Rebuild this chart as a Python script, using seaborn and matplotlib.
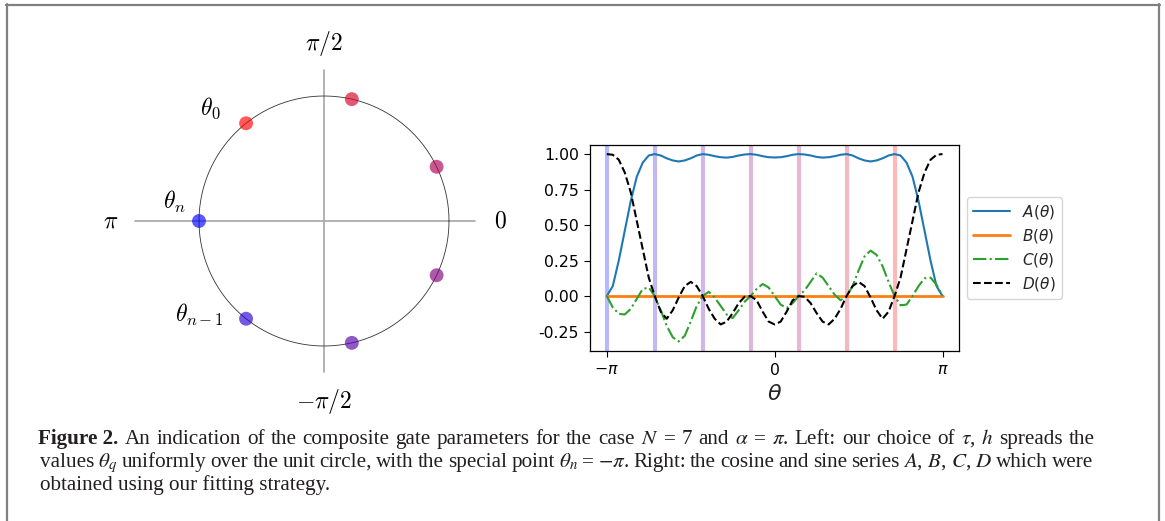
import matplotlib
matplotlib.use("Agg")
import matplotlib.pyplot as plt
from matplotlib.lines import Line2D
import numpy as np
import pandas as pd
import seaborn as sns

W, H = 1165, 521

# sample points of the fitted series, theta / pi from -1 to 1 in steps of 1/28
THETA = np.linspace(-np.pi, np.pi, 57)

A_VALS = [0.00, 0.07, 0.25, 0.46, 0.67, 0.84, 0.94, 0.99, 1.00, 0.99,
          0.97, 0.955, 0.948, 0.955, 0.97, 0.99, 1.00, 0.995, 0.985, 0.978,
          0.975, 0.98, 0.99, 0.997, 1.00, 0.995, 0.985, 0.978, 0.976, 0.978,
          0.985, 0.995, 1.00, 0.997, 0.99, 0.98, 0.975, 0.978, 0.985, 0.995,
          1.00, 0.99, 0.97, 0.955, 0.948, 0.955, 0.97, 0.99, 1.00, 0.99,
          0.94, 0.84, 0.67, 0.46, 0.25, 0.07, 0.00]

B_THETA = [-np.pi, np.pi]
B_VALS = [0.0, 0.0]

C_VALS = [0.00, -0.08, -0.125, -0.13, -0.09, -0.02, 0.05, 0.06, 0.00, -0.10,
          -0.21, -0.29, -0.32, -0.28, -0.18, -0.07, 0.00, 0.03, -0.01, -0.07,
          -0.13, -0.155, -0.10, -0.04, 0.00, 0.05, 0.085, 0.06, 0.00, -0.06,
          -0.085, -0.05, 0.00, 0.04, 0.10, 0.16, 0.13, 0.07, 0.01, -0.03,
          0.00, 0.07, 0.18, 0.28, 0.32, 0.29, 0.21, 0.10, 0.00, -0.065,
          -0.06, 0.00, 0.07, 0.125, 0.13, 0.08, 0.00]

D_VALS = [1.00, 0.995, 0.96, 0.87, 0.73, 0.53, 0.33, 0.13, 0.00, -0.11,
          -0.16, -0.10, -0.01, 0.07, 0.10, 0.07, 0.00, -0.09, -0.16, -0.20,
          -0.18, -0.12, -0.05, -0.005, 0.00, -0.03, -0.11, -0.18, -0.20, -0.18,
          -0.11, -0.03, 0.00, -0.005, -0.05, -0.12, -0.18, -0.20, -0.16, -0.09,
          0.00, 0.07, 0.10, 0.07, -0.01, -0.10, -0.16, -0.11, 0.00, 0.13,
          0.33, 0.53, 0.73, 0.87, 0.96, 0.995, 1.00]

# special points theta_q = -pi + 2*pi*q/7 (in units of pi), blue -> red
THETA_Q = [-1.0, -5 / 7, -3 / 7, -1 / 7, 1 / 7, 3 / 7, 5 / 7]
Q_COLORS = [(q / 6, 0.0, 1 - q / 6) for q in range(7)]

Y_TICKS = [-0.25, 0.0, 0.25, 0.5, 0.75, 1.0]
X_TICKS = [-np.pi, 0, np.pi]
X_TICKLABELS = [r"$-\pi$", r"$0$", r"$\pi$"]

CAPTION_1 = (r"An indication of the composite gate parameters for the case $N$ = 7 "
             r"and $\alpha$ = $\pi$. Left: our choice of $\tau$, $h$ spreads the")
CAPTION_2 = (r"values $\theta_q$ uniformly over the unit circle, with the special point "
             r"$\theta_n$ = $-\pi$. Right: the cosine and sine series $A$, $B$, $C$, $D$ which were")
CAPTION_3 = "obtained using our fitting strategy."


def fx(x):
    return x / W


def fy(y):
    return 1 - y / H


def justified(fig, text, x0, x1, y, **kw):
    # place the words one by one so that the line runs from x0 to x1 (pixels)
    renderer = fig.canvas.get_renderer()
    words = text.split(" ")
    arts = [fig.text(0, fy(y), w, **kw) for w in words]
    widths = [a.get_window_extent(renderer).width for a in arts]
    gap = (x1 - x0 - sum(widths)) / (len(words) - 1)
    x = x0
    for a, w in zip(arts, widths):
        a.set_x(fx(x))
        x += w + gap


sns.set_style("ticks")
fig = plt.figure(figsize=(W / 100, H / 100), dpi=100)

# ---- left: the unit circle ----
axl = fig.add_axes([fx(124), fy(421), 400 / W, 400 / H])
axl.set_xlim(-1.6, 1.6)
axl.set_ylim(-1.6, 1.6)
axl.plot([-1.51, 1.21], [0, 0], color="#a6a6a6", lw=1.2, zorder=1)
axl.plot([0, 0], [-1.21, 1.21], color="#a6a6a6", lw=1.2, zorder=1)
circ = np.linspace(0, 2 * np.pi, 400)
axl.plot(np.cos(circ), np.sin(circ), color="#333333", lw=0.6, zorder=2)

pts = pd.DataFrame({
    "x": np.cos(np.array(THETA_Q) * np.pi),
    "y": np.sin(np.array(THETA_Q) * np.pi),
    "q": range(7),
})
sns.scatterplot(data=pts, x="x", y="y", hue="q", palette=Q_COLORS, s=100,
                alpha=0.65, linewidth=0, legend=False, ax=axl, zorder=3)
axl.axis("off")

cm = dict(math_fontfamily="cm", fontsize=17, color="black")
axl.text(0, 1.42, r"$\pi/2$", ha="center", va="center", **cm)
axl.text(0, -1.44, r"$-\pi/2$", ha="center", va="center", **cm)
axl.text(-1.71, 0, r"$\pi$", ha="center", va="center", **cm)
axl.text(1.41, 0, r"$0$", ha="center", va="center", **cm)
axl.text(-0.91, 0.9, r"$\theta_0$", ha="center", va="center", **cm)
axl.text(-1.2, 0.15, r"$\theta_n$", ha="center", va="center", **cm)
axl.text(-1.0, -0.75, r"$\theta_{n-1}$", ha="center", va="center", **cm)

# ---- right: the fitted series ----
axr = fig.add_axes([fx(590), fy(351), 369.3 / W, 206.3 / H])
for pos, col in zip(THETA_Q, Q_COLORS):
    axr.axvline(pos * np.pi, color=col, alpha=0.28, lw=3, zorder=1)

sns.lineplot(x=THETA, y=A_VALS, ax=axr, color="tab:blue", lw=1.5, label=r"$A(\theta)$")
sns.lineplot(x=B_THETA, y=B_VALS, ax=axr, color="tab:orange", lw=2, label=r"$B(\theta)$")
sns.lineplot(x=THETA, y=C_VALS, ax=axr, color="tab:green", lw=1.5, linestyle="-.",
             label=r"$C(\theta)$")
sns.lineplot(x=THETA, y=D_VALS, ax=axr, color="black", lw=1.5, linestyle="--",
             label=r"$D(\theta)$")

axr.set_xlim(-1.1 * np.pi, 1.1 * np.pi)
axr.set_ylim(-0.387, 1.066)
axr.set_xticks(X_TICKS)
axr.set_xticklabels(X_TICKLABELS)
axr.set_yticks(Y_TICKS)
axr.set_yticklabels([f"{v:.2f}" for v in Y_TICKS])
axr.tick_params(labelsize=11.3, colors="black", length=4.5)
for sp in axr.spines.values():
    sp.set_color("black")
    sp.set_linewidth(0.9)
axr.set_xlabel(r"$\theta$", fontsize=16, labelpad=4)
axr.set_ylabel("")
axr.legend(loc="center left", bbox_to_anchor=(1.0, 0.5), fontsize=11,
           handlelength=2.4, labelspacing=0.4, frameon=True)

# ---- caption (justified like the journal layout) ----
cap = dict(family="Liberation Serif", math_fontfamily="stix", fontsize=15.2,
           color="#231f20", va="baseline", ha="left")
fig.text(fx(38), fy(444), "Figure 2.", fontweight="bold", **cap)
justified(fig, CAPTION_1, 125, 1095, 444, **cap)
justified(fig, CAPTION_2, 40, 1093, 467, **cap)
fig.text(fx(40), fy(490), CAPTION_3, **cap)

# ---- frame ----
frame = dict(color="#808080", lw=1.6, transform=fig.transFigure)
fig.add_artist(Line2D([fx(6), fx(1160)], [fy(5), fy(5)], **frame))
fig.add_artist(Line2D([fx(7), fx(7)], [fy(4), fy(H)], **frame))
fig.add_artist(Line2D([fx(1159), fx(1159)], [fy(4), fy(H)], **frame))

fig.savefig("out.png", dpi=100)
